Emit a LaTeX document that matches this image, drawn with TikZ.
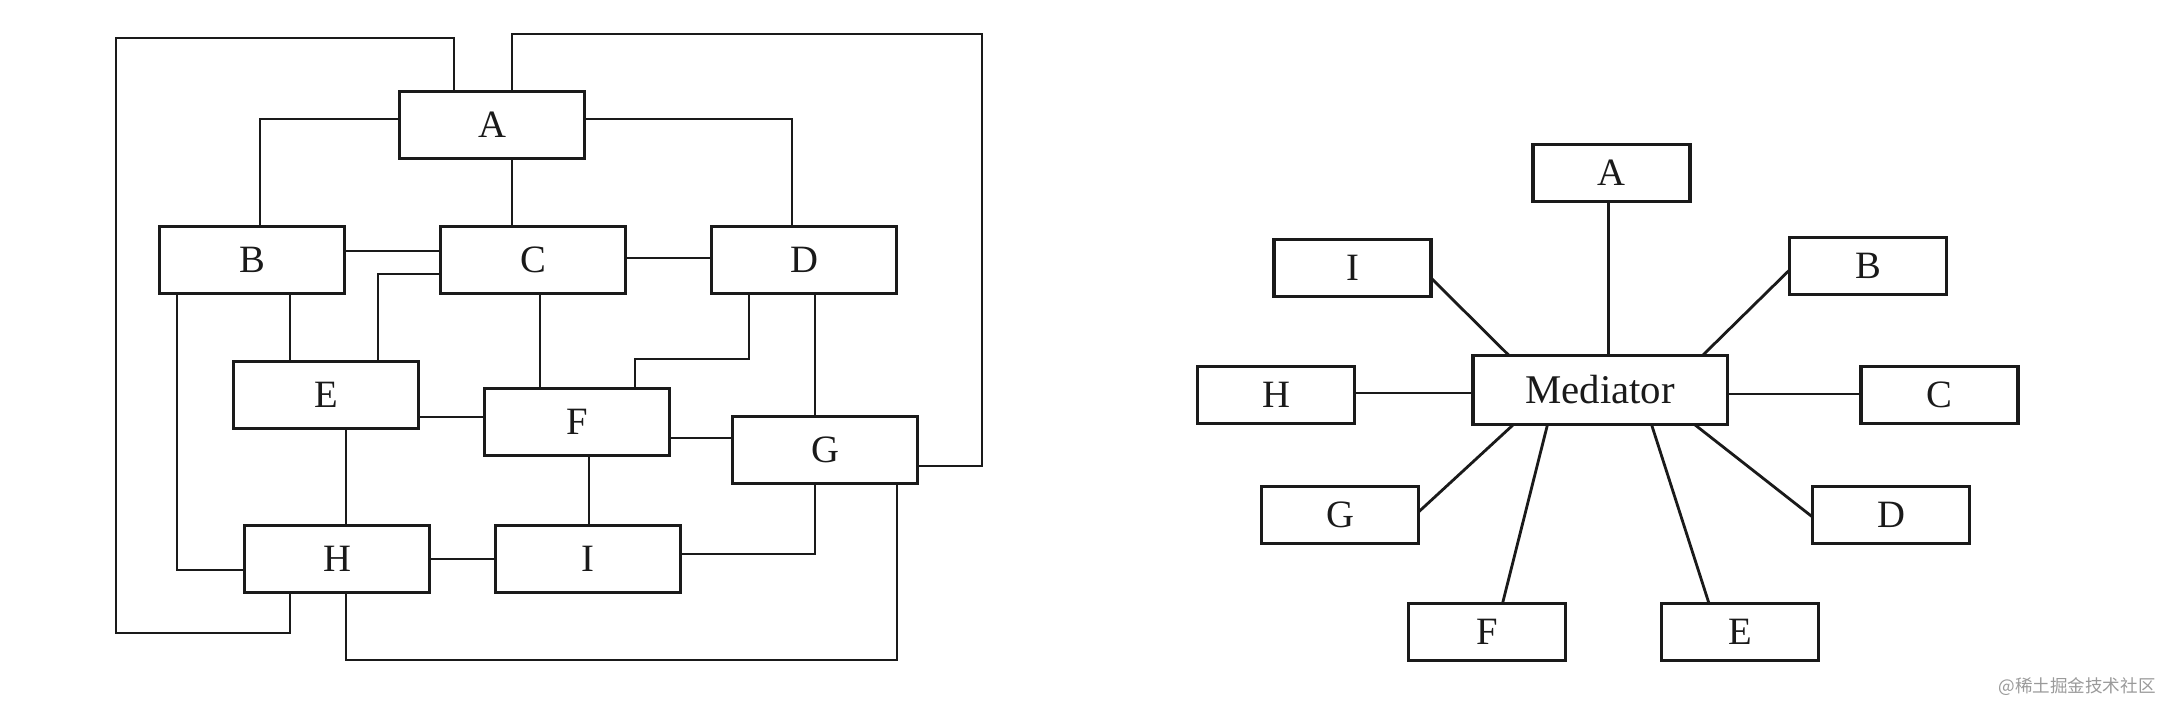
\documentclass[tikz,border=0pt]{standalone}
\usepackage{fontspec}
\usepackage{xcolor}
\setmainfont{Liberation Serif}
\newfontfamily\cjk{Noto Sans CJK SC}
\definecolor{scanink}{HTML}{1A1A1A}
\definecolor{markgray}{HTML}{9A9A9A}

\begin{document}
\begin{tikzpicture}[-,x=0.01cm,y=-0.01cm,
  point/.style={coordinate},
  block/.style={draw=scanink, line width=0.9pt, rectangle, inner sep=0pt, minimum height=0.67cm, minimum width=1.85cm, text=scanink, font=\fontsize{11}{13}\selectfont},
  leaf/.style={block, minimum height=0.57cm, minimum width=1.57cm},
  hub/.style={block, minimum height=0.69cm, minimum width=2.54cm, font=\fontsize{11.6}{13}\selectfont},
  every path/.style={draw=scanink, line width=0.8pt}]
\useasboundingbox[draw=none] (0,0) rectangle (2164,704);
\node[block] (A) at (492,125) {A};
\node[block] (B) at (252,260) {B};
\node[block] (C) at (533,260) {C};
\node[block] (D) at (804,260) {D};
\node[block] (E) at (326,395) {E};
\node[block] (F) at (577,422) {F};
\node[block] (G) at (825,450) {G};
\node[block] (H) at (337,559) {H};
\node[block] (I) at (588,559) {I};
\node[point] (a1) at (399.5,119) {};
\node[point] (a2) at (260,119) {};
\node[point] (b1) at (260,226.5) {};
\node[point] (a3) at (584.5,119) {};
\node[point] (a4) at (792,119) {};
\node[point] (d1) at (792,226.5) {};
\node[point] (a5) at (512,158.5) {};
\node[point] (c1) at (512,226.5) {};
\node[point] (a6) at (454,91.5) {};
\node[point] (t1) at (454,38) {};
\node[point] (t2) at (116,38) {};
\node[point] (t3) at (116,633) {};
\node[point] (t4) at (290,633) {};
\node[point] (h1) at (290,592.5) {};
\node[point] (a7) at (512,91.5) {};
\node[point] (t5) at (512,34) {};
\node[point] (t6) at (982,34) {};
\node[point] (t7) at (982,466) {};
\node[point] (g1) at (917.5,466) {};
\node[point] (b2) at (344.5,251) {};
\node[point] (c2) at (440.5,251) {};
\node[point] (c3) at (625.5,258) {};
\node[point] (d2) at (711.5,258) {};
\node[point] (c4) at (440.5,274) {};
\node[point] (c5) at (378,274) {};
\node[point] (e1) at (378,361.5) {};
\node[point] (b3) at (290,293.5) {};
\node[point] (e2) at (290,361.5) {};
\node[point] (b4) at (177,293.5) {};
\node[point] (b5) at (177,570) {};
\node[point] (h2) at (244.5,570) {};
\node[point] (c6) at (540,293.5) {};
\node[point] (f1) at (540,388.5) {};
\node[point] (d3) at (749,293.5) {};
\node[point] (d4) at (749,359) {};
\node[point] (d5) at (635,359) {};
\node[point] (f2) at (635,388.5) {};
\node[point] (d6) at (815,293.5) {};
\node[point] (g2) at (815,416.5) {};
\node[point] (e3) at (418.5,417) {};
\node[point] (f3) at (484.5,417) {};
\node[point] (f4) at (669.5,438) {};
\node[point] (g3) at (732.5,438) {};
\node[point] (e4) at (346,428.5) {};
\node[point] (h3) at (346,525.5) {};
\node[point] (f5) at (589,455.5) {};
\node[point] (i1) at (589,525.5) {};
\node[point] (i3) at (680.5,554) {};
\node[point] (i4) at (815,554) {};
\node[point] (g4) at (815,483.5) {};
\node[point] (h5) at (346,592.5) {};
\node[point] (h6) at (346,660) {};
\node[point] (h7) at (897,660) {};
\node[point] (g5) at (897,483.5) {};
\draw   (a1) -- (a2) -- (b1);
\draw   (a3) -- (a4) -- (d1);
\draw   (a5) -- (c1);
\draw   (a6) -- (t1) -- (t2) -- (t3) -- (t4) -- (h1);
\draw   (a7) -- (t5) -- (t6) -- (t7) -- (g1);
\draw   (b2) -- (c2);
\draw   (c3) -- (d2);
\draw   (c4) -- (c5) -- (e1);
\draw   (b3) -- (e2);
\draw   (b4) -- (b5) -- (h2);
\draw   (c6) -- (f1);
\draw   (d3) -- (d4) -- (d5) -- (f2);
\draw   (d6) -- (g2);
\draw   (e3) -- (f3);
\draw   (f4) -- (g3);
\draw   (e4) -- (h3);
\draw   (f5) -- (i1);
\draw   (H) -- (I);
\draw   (i3) -- (i4) -- (g4);
\draw   (h5) -- (h6) -- (h7) -- (g5);
\node[hub] (M) at (1600,390) {Mediator};
\node[leaf] (mA) at (1611.5,173) {A};
\node[leaf] (mB) at (1868,266) {B};
\node[leaf] (mC) at (1939.5,395) {C};
\node[leaf] (mD) at (1891,515) {D};
\node[leaf] (mE) at (1740,632) {E};
\node[leaf] (mF) at (1487,632) {F};
\node[leaf] (mG) at (1340,515) {G};
\node[leaf] (mH) at (1276,395) {H};
\node[leaf] (mI) at (1352.5,268) {I};
\node[point] (ma) at (1608.5,201.5) {};
\node[point] (m1) at (1608.5,355.5) {};
\node[point] (mb) at (1789.5,270) {};
\node[point] (m2) at (1702.5,355.5) {};
\node[point] (mc) at (1861,394) {};
\node[point] (m3) at (1727,394) {};
\node[point] (md) at (1812.5,517) {};
\node[point] (m4) at (1694.5,424.5) {};
\node[point] (me) at (1709,603.5) {};
\node[point] (m5) at (1651.5,424.5) {};
\node[point] (mf) at (1502.5,603.5) {};
\node[point] (m6) at (1547.5,424.5) {};
\node[point] (mg) at (1418.5,512) {};
\node[point] (m7) at (1513.5,424.5) {};
\node[point] (mh) at (1354.5,393) {};
\node[point] (m8) at (1473,393) {};
\node[point] (mi) at (1431,278) {};
\node[point] (m9) at (1509,355.5) {};
\draw   (ma) -- (m1);
\draw   (mb) -- (m2);
\draw   (mc) -- (m3);
\draw   (md) -- (m4);
\draw   (me) -- (m5);
\draw   (mf) -- (m6);
\draw   (mg) -- (m7);
\draw   (mh) -- (m8);
\draw   (mi) -- (m9);
\node[text=markgray, font=\cjk\fontsize{5}{6}\selectfont] (wm) at (2077,687) {@稀土掘金技术社区};
\end{tikzpicture}
\end{document}
